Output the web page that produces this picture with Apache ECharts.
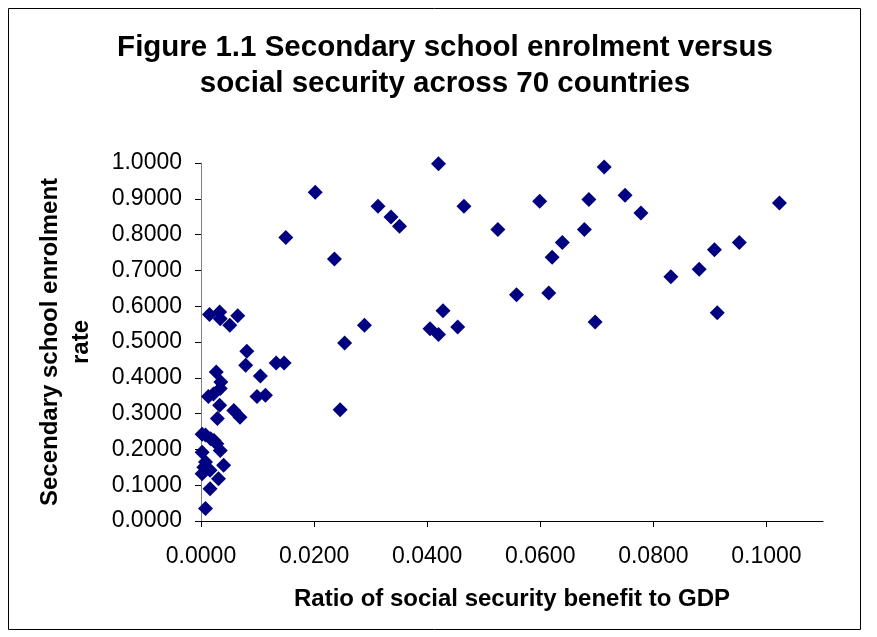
<!DOCTYPE html>
<html>
<head>
<meta charset="utf-8">
<script src="https://cdn.jsdelivr.net/npm/echarts@6/dist/echarts.min.js"></script>
<style>
  html, body { margin: 0; padding: 0; background: #ffffff; }
  #chart { width: 877px; height: 637px; }
</style>
</head>
<body>
<div id="chart"></div>
<script>
// Ratio of social security benefit to GDP (x) for each country
const benefitRatio = [
  0.0002, 0.0017, 0.0028, 0.0034, 0.0002, 0.0008, 0.0040, 0.0016, 0.0002, 0.0031,
  0.0016, 0.0008, 0.0008, 0.0023, 0.0005,
  0.0015, 0.0033, 0.0034, 0.0051, 0.0065, 0.0081, 0.0079, 0.0105, 0.0133, 0.0147,
  0.0027, 0.0035, 0.0034, 0.0013, 0.0022, 0.0099, 0.0114, 0.0033, 0.0029, 0.0058,
  0.0069,
  0.0150, 0.0202, 0.0236, 0.0313, 0.0336, 0.0351, 0.0420, 0.0465, 0.0254, 0.0289,
  0.0246, 0.0428, 0.0405, 0.0420, 0.0454,
  0.0713, 0.0599, 0.0686, 0.0750, 0.0778, 0.0525, 0.0678, 0.0639, 0.0621, 0.1023,
  0.0952, 0.0908, 0.0881, 0.0831, 0.0558, 0.0615, 0.0697, 0.0913
];

// Secondary school enrolment rate (y) for the same countries
const enrolmentRate = [
  0.242, 0.230, 0.216, 0.197, 0.192, 0.165, 0.156, 0.142, 0.132, 0.118,
  0.090, 0.035, 0.240, 0.225, 0.150,
  0.577, 0.584, 0.565, 0.547, 0.573, 0.474, 0.435, 0.405, 0.441, 0.441,
  0.416, 0.388, 0.370, 0.348, 0.355, 0.348, 0.351, 0.323, 0.286, 0.309,
  0.290,
  0.792, 0.918, 0.732, 0.879, 0.849, 0.823, 0.998, 0.879, 0.497, 0.547,
  0.311, 0.587, 0.537, 0.521, 0.542,
  0.989, 0.893, 0.898, 0.910, 0.860, 0.814, 0.814, 0.778, 0.737, 0.888,
  0.778, 0.758, 0.703, 0.682, 0.632, 0.637, 0.556, 0.582
];

// Axis tick labels
const xTicks = [0, 0.02, 0.04, 0.06, 0.08, 0.10];
const yTicks = [0, 0.1, 0.2, 0.3, 0.4, 0.5, 0.6, 0.7, 0.8, 0.9, 1.0];

const points = benefitRatio.map((x, i) => [x, enrolmentRate[i]]);

const FONT = '"Liberation Sans", Arial, sans-serif';
const chart = echarts.init(document.getElementById('chart'), null, { renderer: 'canvas' });

chart.setOption({
  backgroundColor: '#ffffff',
  animation: false,
  grid: { left: 201, right: 54, top: 163, bottom: 116, containLabel: false },
  graphic: [
    {
      type: 'rect',
      shape: { x: 8.5, y: 8.5, width: 852, height: 621 },
      style: { fill: 'none', stroke: '#000000', lineWidth: 1 },
      silent: true
    },
    {
      type: 'text',
      x: 445, y: 66,
      style: {
        text: 'Figure 1.1 Secondary school enrolment versus\nsocial security across 70 countries',
        font: 'bold 29.5px ' + FONT,
        fill: '#000000',
        align: 'center',
        verticalAlign: 'middle',
        lineHeight: 36
      },
      silent: true
    }
  ],
  xAxis: {
    type: 'value',
    min: 0,
    max: 0.11,
    interval: 0.02,
    name: 'Ratio of social security benefit to GDP',
    nameLocation: 'middle',
    nameGap: 66,
    nameTextStyle: { fontFamily: FONT, fontWeight: 'bold', fontSize: 24, color: '#000000' },
    axisLine: { onZero: false, lineStyle: { color: '#000000', width: 1 } },
    axisTick: { show: true, inside: false, length: 6, customValues: xTicks, lineStyle: { color: '#000000' } },
    axisLabel: {
      customValues: xTicks,
      margin: 24,
      fontFamily: FONT, fontSize: 23, color: '#000000',
      formatter: v => v.toFixed(4)
    },
    splitLine: { show: false }
  },
  yAxis: {
    type: 'value',
    min: 0,
    max: 1,
    interval: 0.1,
    name: 'Secendary school enrolment\nrate',
    nameLocation: 'middle',
    nameRotate: 90,
    nameGap: 104,
    nameTextStyle: { fontFamily: FONT, fontWeight: 'bold', fontSize: 24, color: '#000000', lineHeight: 31 },
    axisLine: { onZero: false, lineStyle: { color: '#808080', width: 1 } },
    axisTick: { show: true, inside: false, length: 6, customValues: yTicks, lineStyle: { color: '#000000' } },
    axisLabel: {
      customValues: yTicks,
      margin: 19,
      fontFamily: FONT, fontSize: 23, color: '#000000',
      formatter: v => v.toFixed(4)
    },
    splitLine: { show: false }
  },
  series: [
    {
      type: 'scatter',
      symbol: 'diamond',
      symbolSize: 15,
      itemStyle: { color: '#000080', opacity: 1 },
      data: points
    }
  ]
});
</script>
</body>
</html>
